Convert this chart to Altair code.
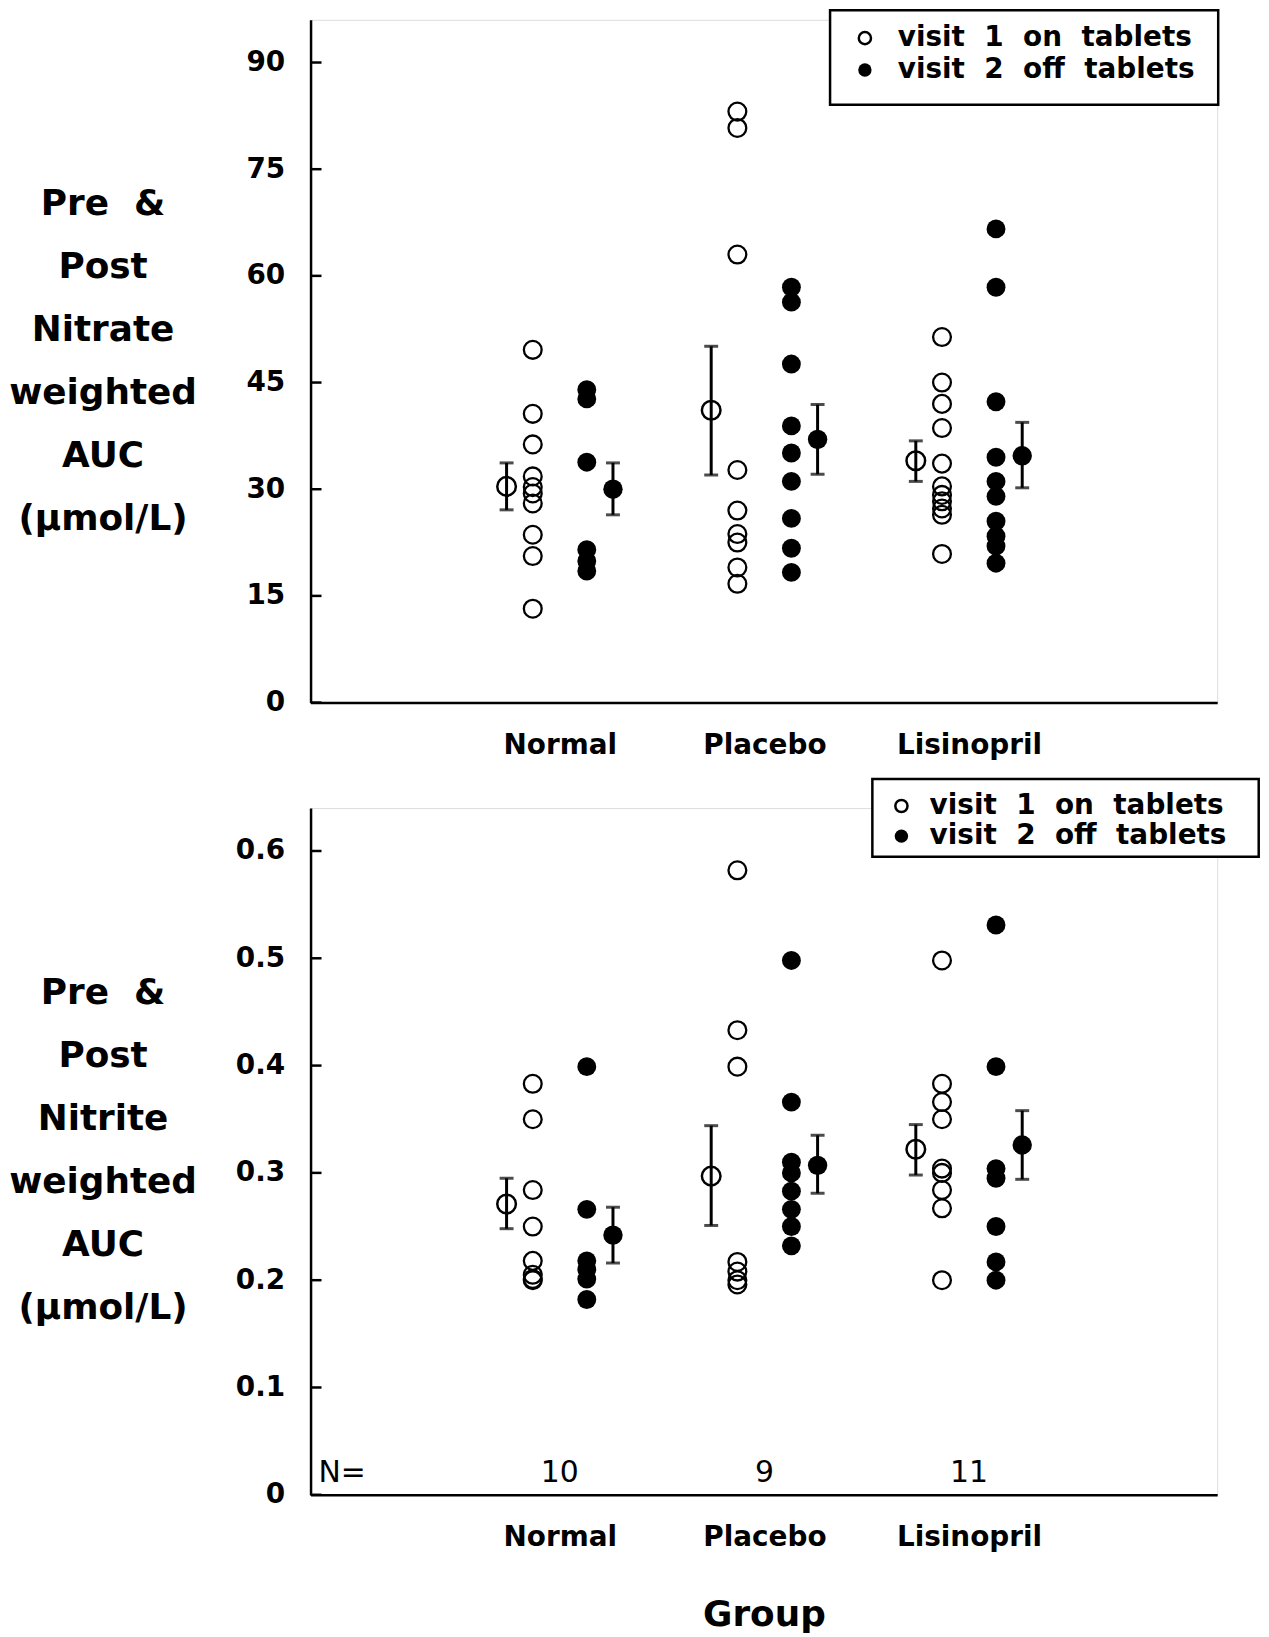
import altair as alt
import pandas as pd

# ---------------- data ----------------
categories = ["Normal", "Placebo", "Lisinopril"]
n_counts = [10, 9, 11]
legend_labels = ["visit\u00a0\u00a01\u00a0\u00a0on\u00a0\u00a0tablets",
                 "visit\u00a0\u00a02\u00a0\u00a0off\u00a0\u00a0tablets"]

nitrate_ticks = [0, 15, 30, 45, 60, 75, 90]
nitrite_ticks = [0, 0.1, 0.2, 0.3, 0.4, 0.5, 0.6]

nitrate_title = ["Pre\u00a0\u00a0&", "Post", "Nitrate", "weighted", "AUC", "(\u00b5mol/L)"]
nitrite_title = ["Pre\u00a0\u00a0&", "Post", "Nitrite", "weighted", "AUC", "(\u00b5mol/L)"]

# nitrate, visit 1 (open) and visit 2 (filled), per category
nitrate_v1_normal = [49.6, 40.6, 36.3, 31.8, 30.3, 29.4, 28.0, 23.6, 20.6, 13.2]
nitrate_v1_placebo = [83.1, 80.8, 63.0, 32.7, 27.0, 23.7, 22.5, 19.0, 16.7]
nitrate_v1_lisinopril = [51.4, 45.0, 42.0, 38.6, 33.6, 30.4, 29.2, 28.3, 27.3, 26.4, 20.9]
nitrate_v2_normal = [44.0, 42.7, 33.8, 21.5, 19.9, 18.5]
nitrate_v2_placebo = [58.4, 56.3, 47.6, 38.9, 35.1, 31.1, 25.9, 21.7, 18.3]
nitrate_v2_lisinopril = [66.6, 58.4, 42.3, 34.5, 31.1, 29.0, 25.5, 23.4, 22.0, 19.6]

nitrate_mean_v1 = [30.4, 41.1, 34.0]
nitrate_lo_v1 = [27.1, 32.0, 31.1]
nitrate_hi_v1 = [33.7, 50.1, 36.8]
nitrate_mean_v2 = [30.0, 37.0, 34.7]
nitrate_lo_v2 = [26.4, 32.1, 30.2]
nitrate_hi_v2 = [33.7, 41.9, 39.4]

# nitrite
nitrite_v1_normal = [0.383, 0.350, 0.284, 0.250, 0.218, 0.205, 0.201, 0.200]
nitrite_v1_placebo = [0.582, 0.433, 0.399, 0.217, 0.208, 0.200, 0.196]
nitrite_v1_lisinopril = [0.498, 0.383, 0.366, 0.350, 0.304, 0.300, 0.284, 0.267, 0.200]
nitrite_v2_normal = [0.399, 0.266, 0.218, 0.210, 0.201, 0.182]
nitrite_v2_placebo = [0.498, 0.366, 0.310, 0.300, 0.283, 0.266, 0.250, 0.232]
nitrite_v2_lisinopril = [0.531, 0.399, 0.304, 0.295, 0.250, 0.217, 0.200]

nitrite_mean_v1 = [0.271, 0.297, 0.322]
nitrite_lo_v1 = [0.248, 0.251, 0.298]
nitrite_hi_v1 = [0.295, 0.344, 0.345]
nitrite_mean_v2 = [0.242, 0.307, 0.326]
nitrite_lo_v2 = [0.216, 0.281, 0.294]
nitrite_hi_v2 = [0.268, 0.335, 0.358]

# ---------------- styling ----------------
FONT = "DejaVu Sans"
X_DOMAIN = [-0.218, 4.213]
OFF_PTS = 0.132
OFF_MEAN = 0.26
PLOT_W = 911
LW = 2.5


def pts_df(groups, offset):
    rows = []
    for i, vals in enumerate(groups):
        for v in vals:
            rows.append({"x": i + 1 + offset, "y": v})
    return pd.DataFrame(rows)


def mean_df(means, offset):
    return pd.DataFrame({"x": [i + 1 + offset for i in range(len(means))], "y": means})


def err_df(lo, hi, offset):
    return pd.DataFrame({"x": [i + 1 + offset for i in range(len(lo))], "y": lo, "y2": hi})


def cap_df(lo, hi, offset):
    xs = [i + 1 + offset for i in range(len(lo))]
    return pd.DataFrame({"x": xs + xs, "y": list(lo) + list(hi)})


def panel(v1, v2, m1, lo1, hi1, m2, lo2, hi2, ticks, ymax, height,
          title_lines, label_expr, leg, x_title, show_n):
    x_axis_kw = dict(values=[1, 2, 3],
                     labelExpr="['','Normal','Placebo','Lisinopril'][round(datum.value)]",
                     ticks=False, tickSize=0, grid=False,
                     domainWidth=LW, domainColor="black",
                     labelFont=FONT, labelFontWeight="bold", labelFontSize=28,
                     labelColor="black", labelPadding=51, labelBaseline="alphabetic")
    if x_title:
        x_axis_kw.update(title=x_title, titleFont=FONT, titleFontWeight="bold",
                         titleFontSize=36, titleColor="black", titleY=131,
                         titleBaseline="alphabetic")
    else:
        x_axis_kw.update(title=None)
    x_enc = alt.X("x:Q", scale=alt.Scale(domain=X_DOMAIN, nice=False, zero=False),
                  axis=alt.Axis(**x_axis_kw))
    y_enc = alt.Y("y:Q", scale=alt.Scale(domain=[0, ymax], nice=False, zero=True),
                  axis=alt.Axis(values=ticks, ticks=False, tickSize=0, grid=False,
                                domainWidth=LW, domainColor="black",
                                labelFont=FONT, labelFontSize=28, labelFontWeight="bold",
                                labelColor="black",
                                labelPadding=26, labelExpr=label_expr,
                                title=title_lines, titleFont=FONT, titleFontWeight="bold",
                                titleFontSize=36, titleColor="black", titleAngle=0,
                                titleAlign="center", titleBaseline="middle",
                                titleX=-209, titleY=185, titleLineHeight=63.3))

    layers = []
    # inward ticks on the y axis
    layers.append(alt.Chart(pd.DataFrame({"y": ticks})).mark_rule(
        color="black", strokeWidth=LW).encode(x=alt.value(0), x2=alt.value(11)))
    # error bars
    for lo, hi, off in [(lo1, hi1, -OFF_MEAN), (lo2, hi2, OFF_MEAN)]:
        layers.append(alt.Chart(err_df(lo, hi, off)).mark_rule(
            color="black", strokeWidth=3).encode(y2="y2:Q"))
        layers.append(alt.Chart(cap_df(lo, hi, off)).mark_tick(
            orient="horizontal", size=14, thickness=3, color="black"))
    # individual points
    layers.append(alt.Chart(pts_df(v1, -OFF_PTS)).mark_point(
        shape="circle", filled=False, size=320, strokeWidth=2.3, color="black", opacity=1))
    layers.append(alt.Chart(pts_df(v2, OFF_PTS)).mark_circle(
        size=360, color="black", opacity=1))
    # means
    layers.append(alt.Chart(mean_df(m1, -OFF_MEAN)).mark_point(
        shape="circle", filled=False, size=350, strokeWidth=2.5, color="black", opacity=1))
    layers.append(alt.Chart(mean_df(m2, OFF_MEAN)).mark_circle(
        size=380, color="black", opacity=1))

    # legend box
    bx0, bx1, by0, by1, mx, tx, ly = leg
    layers.append(alt.Chart(pd.DataFrame({"k": [0]})).mark_rect(
        fill="white", stroke="black", strokeWidth=LW).encode(
        x=alt.value(bx0), x2=alt.value(bx1), y=alt.value(by0), y2=alt.value(by1)))
    for j, lab in enumerate(legend_labels):
        ldf = pd.DataFrame({"label": [lab]})
        if j == 0:
            layers.append(alt.Chart(ldf).mark_point(
                shape="circle", filled=False, size=150, strokeWidth=2.5, color="black",
                opacity=1).encode(x=alt.value(mx), y=alt.value(ly[j])))
        else:
            layers.append(alt.Chart(ldf).mark_circle(
                size=180, color="black", opacity=1).encode(x=alt.value(mx), y=alt.value(ly[j])))
        layers.append(alt.Chart(ldf).mark_text(
            align="left", baseline="middle", font=FONT, fontSize=28, fontWeight="bold",
            color="black").encode(x=alt.value(tx), y=alt.value(ly[j]), text="label:N"))

    if show_n:
        ndf = pd.DataFrame({"x": [1, 2, 3], "n": [str(n) for n in n_counts]})
        layers.append(alt.Chart(pd.DataFrame({"t": ["N="]})).mark_text(
            align="left", baseline="middle", font=FONT, fontSize=30, color="black").encode(
            x=alt.value(8), y=alt.value(height - 22), text="t:N"))
        layers.append(alt.Chart(ndf).mark_text(
            align="center", baseline="middle", font=FONT, fontSize=30, color="black").encode(
            y=alt.value(height - 22), text="n:N"))

    return alt.layer(*layers).encode(x=x_enc, y=y_enc).properties(width=PLOT_W, height=height)


top = panel([nitrate_v1_normal, nitrate_v1_placebo, nitrate_v1_lisinopril],
            [nitrate_v2_normal, nitrate_v2_placebo, nitrate_v2_lisinopril],
            nitrate_mean_v1, nitrate_lo_v1, nitrate_hi_v1,
            nitrate_mean_v2, nitrate_lo_v2, nitrate_hi_v2,
            nitrate_ticks, 96, 686, nitrate_title, "format(datum.value, 'd')",
            (522, 912, -9.6, 85.4, 557, 590, [18.4, 50.4]), None, False)

bottom = panel([nitrite_v1_normal, nitrite_v1_placebo, nitrite_v1_lisinopril],
               [nitrite_v2_normal, nitrite_v2_placebo, nitrite_v2_lisinopril],
               nitrite_mean_v1, nitrite_lo_v1, nitrite_hi_v1,
               nitrite_mean_v2, nitrite_lo_v2, nitrite_hi_v2,
               nitrite_ticks, 0.64, 690, nitrite_title,
               "datum.value == 0 ? '0' : format(datum.value, '.1f')",
               (564.5, 952.7, -29.2, 49, 593.7, 622, [-2.1, 28.2]), "Group", True)

chart = alt.vconcat(top, bottom, spacing=106, bounds="flush",
                    padding={"left": 0, "top": -4, "right": 0, "bottom": 0}).configure_view(
    stroke=None).configure(background="white")

chart.save("out.html", embed_options={"renderer": "svg", "actions": False})
